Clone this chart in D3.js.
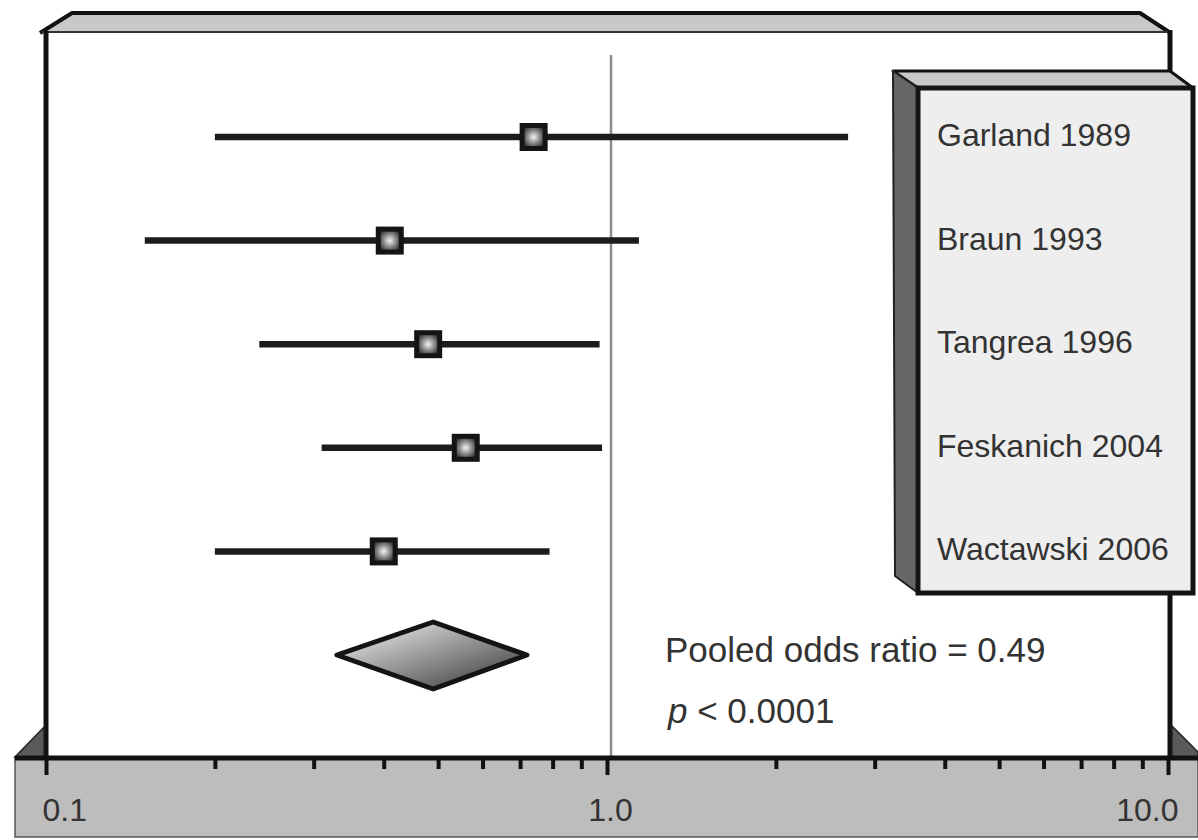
<!DOCTYPE html>
<html>
<head>
<meta charset="utf-8">
<script src="https://cdn.jsdelivr.net/npm/d3@7"></script>
<style>
  body { margin: 0; background: #fff; }
  text { font-family: "Liberation Sans", Arial, sans-serif; }
</style>
</head>
<body>
<div id="plotContainer"></div>
<script>
// studies, odds ratios and 95% CI
const studies = ["Garland 1989", "Braun 1993", "Tangrea 1996", "Feskanich 2004", "Wactawski 2006"];
const oddsRatio = [0.74, 0.41, 0.48, 0.56, 0.40];
const ciLow = [0.20, 0.15, 0.24, 0.31, 0.20];
const ciHigh = [2.69, 1.14, 0.97, 0.98, 0.79];
const pooled = {label: "Pooled", or: 0.49, low: 0.33, high: 0.72};
const majorTicks = [0.1, 1, 10];
const minorTicks = [0.2, 0.3, 0.4, 0.5, 0.6, 0.7, 0.8, 0.9, 2, 3, 4, 5, 6, 7, 8, 9];
const pooledText = "Pooled odds ratio = 0.49";
const pText = "< 0.0001";

const width = 1198, height = 840;

const svg = d3.select("#plotContainer")
  .append("svg")
    .attr("width", width)
    .attr("height", height);

const defs = svg.append("defs");
const rg = defs.append("radialGradient").attr("id", "markGrad");
rg.append("stop").attr("offset", "0%").attr("stop-color", "#f4f4f4");
rg.append("stop").attr("offset", "55%").attr("stop-color", "#8a8a8a");
rg.append("stop").attr("offset", "100%").attr("stop-color", "#3a3a3a");
const lg = defs.append("linearGradient").attr("id", "diaGrad")
  .attr("x1", "0%").attr("y1", "0%").attr("x2", "100%").attr("y2", "100%");
lg.append("stop").attr("offset", "0%").attr("stop-color", "#fafafa");
lg.append("stop").attr("offset", "100%").attr("stop-color", "#2e2e2e");

// scales
const x = d3.scaleLog()
  .domain([0.1, 10])
  .range([46, 1168]);

const y = d3.scalePoint()
  .domain(studies.concat([pooled.label]))
  .range([137, 655]);

// --- 3D frame: top ledge
svg.append("path")
  .attr("d", "M40,33 L72,13 L1140,13 L1169,32 Z")
  .attr("fill", "#c8c8c8").attr("stroke", "none");
svg.append("path")
  .attr("d", "M40,33 L72,13 L1140,13 L1169,32")
  .attr("fill", "none").attr("stroke", "#111").attr("stroke-width", 4)
  .attr("stroke-linejoin", "round");
svg.append("line")
  .attr("x1", 42).attr("x2", 1169).attr("y1", 32).attr("y2", 32)
  .attr("stroke", "#333").attr("stroke-width", 2);

// wall edges
svg.append("line")
  .attr("x1", 46).attr("x2", 46).attr("y1", 31).attr("y2", 758)
  .attr("stroke", "#111").attr("stroke-width", 5);
svg.append("line")
  .attr("x1", 1170).attr("x2", 1170).attr("y1", 30).attr("y2", 758)
  .attr("stroke", "#111").attr("stroke-width", 5);

// reference line at OR = 1
svg.append("line")
  .attr("x1", x(1) + 4).attr("x2", x(1) + 4)
  .attr("y1", 55).attr("y2", 758)
  .attr("stroke", "#8c8c8c").attr("stroke-width", 2.5);

// --- axis floor
svg.append("rect")
  .attr("x", 15).attr("y", 757).attr("width", width - 15).attr("height", 80)
  .attr("fill", "#bdbdbd").attr("stroke", "#555").attr("stroke-width", 1.5);
svg.append("path")
  .attr("d", "M15,757 L44,727 L44,757 Z")
  .attr("fill", "#5a5a5a").attr("stroke", "#222").attr("stroke-width", 1.5);
svg.append("path")
  .attr("d", "M1172,726 L1198,752 L1198,757 L1172,757 Z")
  .attr("fill", "#5a5a5a").attr("stroke", "#222").attr("stroke-width", 1.5);
svg.append("line")
  .attr("x1", 15).attr("x2", width).attr("y1", 758).attr("y2", 758)
  .attr("stroke", "#111").attr("stroke-width", 5);

// minor ticks
const minorAxis = svg.append("g")
  .attr("transform", "translate(0,758)")
  .call(d3.axisBottom(x).tickValues(minorTicks).tickSize(11).tickFormat(""));
minorAxis.select(".domain").remove();
minorAxis.selectAll(".tick line").attr("stroke", "#111").attr("stroke-width", 4);

// major ticks + labels
const majorAxis = svg.append("g")
  .attr("transform", "translate(0,758)")
  .call(d3.axisBottom(x).tickValues(majorTicks).tickSize(17).tickFormat(d3.format(".1f")));
majorAxis.select(".domain").remove();
majorAxis.selectAll(".tick line").attr("stroke", "#111").attr("stroke-width", 4);
majorAxis.selectAll(".tick text")
  .attr("y", 63).attr("dy", 0)
  .attr("fill", "#333")
  .style("font-size", "32px")
  .style("font-family", "'Liberation Sans', Arial, sans-serif")
  .attr("text-anchor", (d, i) => i === 0 ? "start" : (i === majorTicks.length - 1 ? "end" : "middle"))
  .attr("dx", (d, i) => i === 0 ? -4 : (i === majorTicks.length - 1 ? 10 : 3));

// --- CI lines and markers
const rows = studies.map((s, i) => ({study: s, or: oddsRatio[i], low: ciLow[i], high: ciHigh[i]}));

svg.append("g").selectAll("line")
  .data(rows)
  .enter()
  .append("line")
    .attr("x1", d => x(d.low))
    .attr("x2", d => x(d.high))
    .attr("y1", d => y(d.study))
    .attr("y2", d => y(d.study))
    .attr("stroke", "#1c1c1c")
    .attr("stroke-width", 6.5);

const ms = 23;
svg.append("g").selectAll("rect")
  .data(rows)
  .enter()
  .append("rect")
    .attr("x", d => x(d.or) - ms / 2)
    .attr("y", d => y(d.study) - ms / 2)
    .attr("width", ms)
    .attr("height", ms)
    .attr("fill", "url(#markGrad)")
    .attr("stroke", "#141414")
    .attr("stroke-width", 5);

// pooled diamond
const py = y(pooled.label);
svg.append("path")
  .datum(pooled)
  .attr("d", d => `M${x(d.low)},${py} L${x(d.or)},${py - 33} L${x(d.high)},${py} L${x(d.or)},${py + 34} Z`)
  .attr("fill", "url(#diaGrad)")
  .attr("stroke", "#141414")
  .attr("stroke-width", 5)
  .attr("stroke-linejoin", "round");

svg.append("text")
  .attr("x", 665).attr("y", py + 7)
  .attr("fill", "#333")
  .style("font-size", "35px")
  .text(pooledText);
const pt = svg.append("text")
  .attr("x", 668).attr("y", py + 68)
  .attr("fill", "#333")
  .style("font-size", "35px");
pt.append("tspan").style("font-style", "italic").text("p");
pt.append("tspan").text(" " + pText);

// --- legend box (3D)
const lgTop = 71, lgFront = 88, lgLeft = 893, lgFrontLeft = 918, lgRight = 1193, lgBottom = 593;
svg.append("path")
  .attr("d", `M${lgLeft},${lgTop} L1170,${lgTop} L${lgRight},${lgFront} L${lgFrontLeft},${lgFront} Z`)
  .attr("fill", "#c8c8c8").attr("stroke", "#111").attr("stroke-width", 3).attr("stroke-linejoin", "round");
svg.append("path")
  .attr("d", `M${lgLeft},${lgTop} L${lgFrontLeft},${lgFront} L${lgFrontLeft},${lgBottom} L${lgLeft + 2},${lgBottom - 17} Z`)
  .attr("fill", "#666").attr("stroke", "#222").attr("stroke-width", 2).attr("stroke-linejoin", "round");
svg.append("rect")
  .attr("x", lgFrontLeft).attr("y", lgFront)
  .attr("width", lgRight - lgFrontLeft).attr("height", lgBottom - lgFront)
  .attr("fill", "#eeeeee").attr("stroke", "#141414").attr("stroke-width", 5);

svg.append("g").selectAll("text")
  .data(studies)
  .enter()
  .append("text")
    .attr("x", 937)
    .attr("y", d => y(d) + 9)
    .attr("fill", "#333")
    .style("font-size", "32px")
    .text(d => d);
</script>
</body>
</html>
